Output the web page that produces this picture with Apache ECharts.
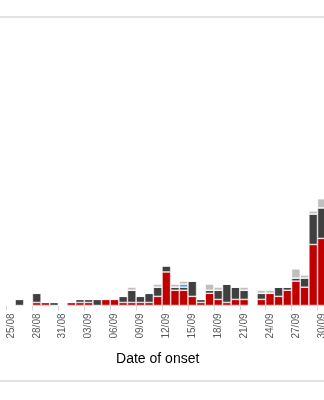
<!DOCTYPE html>
<html>
<head>
<meta charset="utf-8">
<script src="https://cdn.jsdelivr.net/npm/echarts@6/dist/echarts.min.js"></script>
<style>
  html, body { margin: 0; padding: 0; background: #fff; }
  #chart { width: 324px; height: 400px; }
</style>
</head>
<body>
<div id="chart"></div>
<script>
// Daily case counts by date of onset, stacked by case group
const dates = [
  '22/08','23/08','24/08','25/08','26/08','27/08','28/08','29/08','30/08','31/08',
  '01/09','02/09','03/09','04/09','05/09','06/09','07/09','08/09','09/09','10/09',
  '11/09','12/09','13/09','14/09','15/09','16/09','17/09','18/09','19/09','20/09',
  '21/09','22/09','23/09','24/09','25/09','26/09','27/09','28/09','29/09','30/09',
  '01/10'
];
const redCases = [
  0,0,0,0,0,0,1,1,0,0,
  1,1,1,0,2,2,1,1,1,1,
  3,11,5,5,3,1,4,2,1,2,
  2,0,2,4,3,5,8,6,20,22,
  0
];
const darkGreyCases = [
  0,0,0,0,2,0,3,0,1,0,
  0,1,1,2,0,0,2,4,2,3,
  3,2,1,1,5,1,1,3,6,4,
  3,0,2,0,3,1,1,3,10,10,
  0
];
const blueCases = [
  0,0,0,0,0,0,0,0,0,0,
  0,0,0,0,0,0,0,0,0,0,
  0,0,0,1,0,0,0,0,0,0,
  0,0,0,0,0,0,0,0,0,0,
  0
];
const lightGreyCases = [
  0,0,0,0,0,0,0,0,0,0,
  0,0,0,0,0,0,0,1,0,0,
  1,0,1,1,0,0,2,1,0,0,
  1,0,1,1,0,0,3,1,1,3,
  0
];

const chart = echarts.init(document.getElementById('chart'), null, { renderer: 'canvas' });

function stackSeries(name, data, color) {
  return {
    name: name,
    type: 'bar',
    stack: 'cases',
    data: data,
    barCategoryGap: '0%',
    itemStyle: { color: color, borderColor: '#ffffff', borderWidth: 0.6 },
    emphasis: { disabled: true }
  };
}

chart.setOption({
  animation: false,
  backgroundColor: '#ffffff',
  textStyle: { fontFamily: 'Liberation Sans, Arial, sans-serif' },
  grid: {
    left: -19.4, right: -10.8, top: 61.5, bottom: 94.5,
    containLabel: false,
    outerBoundsMode: 'none'
  },
  xAxis: {
    type: 'category',
    data: dates,
    boundaryGap: true,
    axisLine: { show: true, lineStyle: { color: '#d9d9d9', width: 1 } },
    axisTick: { show: true, interval: 2, length: 5, lineStyle: { color: '#d9d9d9' } },
    axisLabel: {
      interval: 2,
      rotate: 90,
      margin: 8,
      color: '#595959',
      fontSize: 10,
      hideOverlap: false,
      fontFamily: 'Liberation Sans, Arial, sans-serif'
    },
    name: 'Date of onset',
    nameLocation: 'middle',
    nameGap: 47,
    nameTextStyle: { color: '#000000', fontSize: 14, fontFamily: 'Liberation Sans, Arial, sans-serif' }
  },
  yAxis: {
    type: 'value',
    min: 0,
    max: 80,
    show: false,
    splitLine: { show: false }
  },
  graphic: [
    { type: 'line', shape: { x1: 0, y1: 17, x2: 324, y2: 17 }, style: { stroke: '#d9d9d9', lineWidth: 1.5 } },
    { type: 'line', shape: { x1: 0, y1: 381, x2: 324, y2: 381 }, style: { stroke: '#d9d9d9', lineWidth: 1.5 } }
  ],
  series: [
    stackSeries('Red group', redCases, '#c00000'),
    stackSeries('Dark grey group', darkGreyCases, '#404040'),
    stackSeries('Blue group', blueCases, '#5b9bd5'),
    stackSeries('Light grey group', lightGreyCases, '#bfbfbf')
  ]
});
</script>
</body>
</html>
